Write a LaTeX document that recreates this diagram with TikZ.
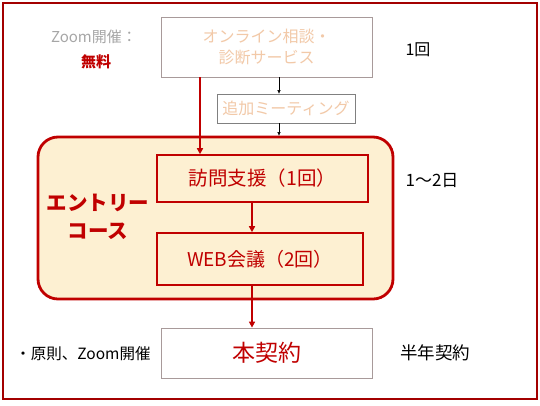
\documentclass[tikz,border=0pt]{standalone}
\usepackage{fontspec}
\setmainfont{Noto Sans CJK JP}
\usetikzlibrary{arrows.meta}
\definecolor{myred}{HTML}{C00000}
\definecolor{peach}{HTML}{F2C9A8}
\definecolor{cream}{HTML}{FDF0D2}
\definecolor{boxgray}{HTML}{A89A9A}
\tikzset{
  x=1pt,y=-1pt,
  plainbox/.style={draw=boxgray,line width=0.8pt,fill=white,inner sep=0pt,align=center},
  redbox/.style={draw=myred,line width=1.6pt,fill=cream,inner sep=0pt,align=center,text=myred},
  redarrow/.style={draw=myred,line width=1.6pt,-{Triangle[length=6pt,width=6pt]}},
  thinarrow/.style={draw=black,line width=0.6pt,-{Triangle[length=3.5pt,width=3pt]}},
  lbl/.style={inner sep=0pt,align=center}
}
\begin{document}
\begin{tikzpicture}
\useasboundingbox (0,0) rectangle (540,405);
\node[draw=myred!85!black,line width=1.2pt,minimum width=534pt,minimum height=396pt,inner sep=0pt] (frame) at (270,201) {};
% top box
\node[plainbox,minimum width=211pt,minimum height=60pt,text=peach,font=\fontsize{16pt}{21pt}\selectfont] (top) at (266.5,47) {オンライン相談・\\診断サービス};
\node[lbl,text=black!35,font=\fontsize{15pt}{17pt}\selectfont] (zoomf) at (94,37) {Zoom開催：};
\node[lbl,text=myred,font=\bfseries\fontsize{15pt}{17pt}\selectfont] (free) at (96,62) {無料};
\node[lbl,font=\fontsize{16pt}{18pt}\selectfont] (once) at (418,50) {1回};
% additional meeting
\node[draw=gray,line width=0.8pt,fill=white,inner sep=0pt,minimum width=138pt,minimum height=29pt,text=peach,font=\fontsize{16pt}{18pt}\selectfont] (add) at (286,108.5) {追加ミーティング};
% rounded box
\node[draw=myred,line width=2.8pt,fill=cream,rounded corners=20pt,minimum width=355pt,minimum height=162pt,inner sep=0pt] (entry) at (215.5,218) {};
\node[lbl,text=myred,font=\bfseries\fontsize{20.5pt}{28pt}\selectfont] (entrylbl) at (98,217) {エントリー\\コース};
\node[redbox,minimum width=211pt,minimum height=47pt,font=\fontsize{19.5pt}{22pt}\selectfont] (visit) at (262.5,178.5) {訪問支援（1回）};
\node[redbox,minimum width=206pt,minimum height=52pt,font=\fontsize{19pt}{22pt}\selectfont] (web) at (260,259) {WEB会議（2回）};
\node[lbl,font=\fontsize{17pt}{19pt}\selectfont] (days) at (432,181) {1〜2日};
% contract
\node[plainbox,minimum width=211pt,minimum height=50pt,text=myred,font=\fontsize{23pt}{26pt}\selectfont] (contract) at (266.5,353) {本契約};
\node[lbl,font=\fontsize{15.5pt}{17pt}\selectfont] (rule) at (83,354) {・原則、Zoom開催};
\node[lbl,font=\fontsize{17.5pt}{19pt}\selectfont] (half) at (435,353) {半年契約};
% connectors
\coordinate (ax) at (279,0);
\coordinate (rx) at (200,0);
\coordinate (cx) at (252,0);
\draw[thinarrow] (top.south -| ax) -- (add.north -| ax);
\draw[thinarrow] (add.south -| ax) -- (entry.north -| ax);
\draw[redarrow] (top.south -| rx) -- (visit.north -| rx);
\draw[redarrow] (visit.south -| cx) -- (web.north -| cx);
\draw[redarrow] (web.south -| cx) -- (contract.north -| cx);
\end{tikzpicture}
\end{document}
